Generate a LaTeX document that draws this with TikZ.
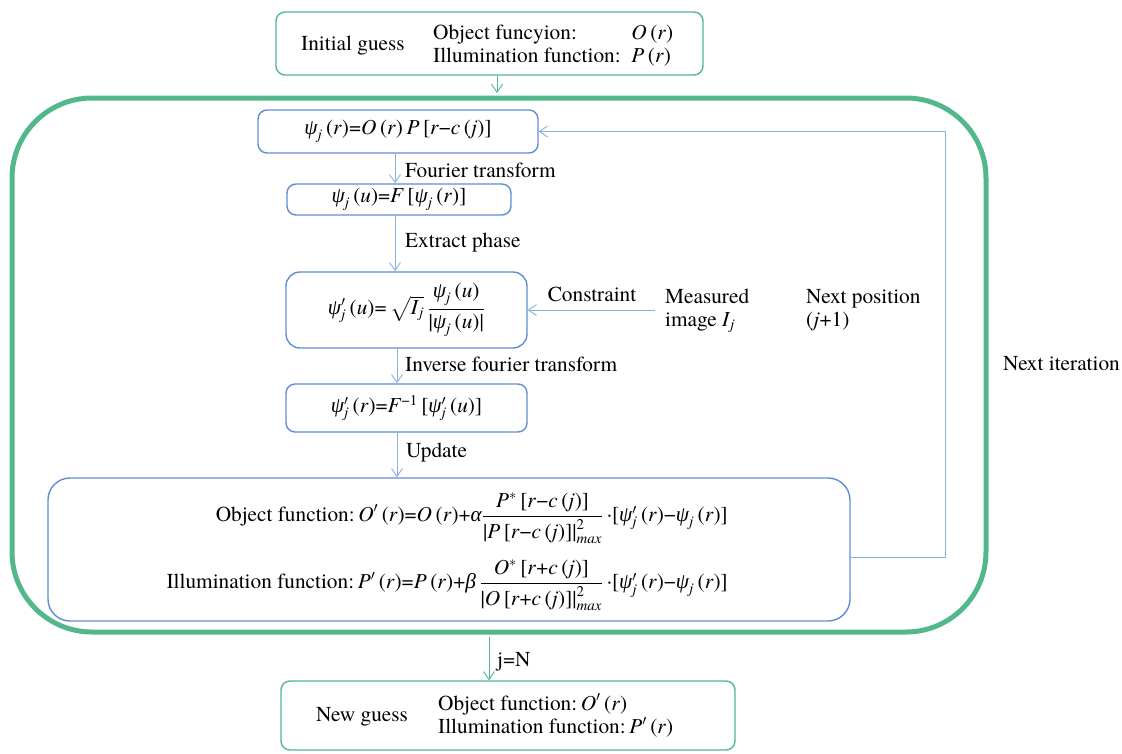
\documentclass[tikz,border=0pt]{standalone}
\usepackage{amsmath}
\usepackage{fontspec}
\setmainfont{texgyretermes}[Extension=.otf, UprightFont=*-regular, ItalicFont=*-italic, BoldFont=*-bold, BoldItalicFont=*-bolditalic]
\newfontfamily\grk{Liberation Serif}
\usetikzlibrary{arrows.meta}
\definecolor{gr}{RGB}{82,183,138}
\definecolor{bl}{RGB}{95,140,210}
\definecolor{lb}{RGB}{140,175,225}
\newcommand\itx[1]{\textit{#1}}
\newcommand\gk[1]{{\grk\itshape #1}}
\newcommand\psj{$\text{\gk{ψ}}_{\text{\itx{j}}}$}
\newcommand\psjp{$\text{\gk{ψ}}'_{\text{\itx{j}}}$}
\begin{document}
\begin{tikzpicture}[x=1pt,y=-1pt,
  every node/.style={font=\rmfamily\fontsize{21.3}{25}\selectfont, inner sep=0pt},
  bbox/.style={draw=bl, line width=1.4pt, rounded corners=9pt},
  gbox/.style={draw=gr, line width=1.4pt, rounded corners=9pt},
  arr/.style={-{Straight Barb[length=8pt,width=11pt]}, line width=0.9pt},
  barr/.style={arr, draw=lb},
  garr/.style={arr, draw=gr},
  lbl/.style={anchor=west}]
\useasboundingbox (0,0) rectangle (1122,753);
% big loop
\node[draw=gr, line width=5pt, rounded corners=80pt, minimum width=974pt, minimum height=534pt] (big) at (499,365) {};
% initial guess
\node[gbox, minimum width=427pt, minimum height=63pt] (init) at (489.5,43.5) {};
\node (initl) at (353,46) {Initial guess};
\node[anchor=west] (initr) at (433,46) {\begin{tabular}{@{}l@{\ \ }l@{}}Object funcyion: & \itx{O}\,(\itx{r})\\[-2pt] Illumination function: & \itx{P}\,(\itx{r})\end{tabular}};
% boxes
\node[bbox, minimum width=280pt, minimum height=43pt] (b1) at (398,131.5) {\psj\,(\itx{r})=\itx{O}\,(\itx{r})\,\itx{P}\,[\itx{r}−\itx{c}\,(\itx{j})]};
\node[bbox, minimum width=224pt, minimum height=31pt] (b2) at (399,199.5) {\psj\,(\itx{u})=\itx{F}\,[\psj\,(\itx{r})]};
\node[bbox, rounded corners=14pt, minimum width=241pt, minimum height=76pt] (b3) at (406.5,310) {\psjp\,(\itx{u})=\,$\sqrt{\text{\itx{I}}_{\text{\itx{j}}}}\,\dfrac{\text{\psj\,(\itx{u})}}{\text{|\psj\,(\itx{u})|}}$};
\node[bbox, minimum width=241pt, minimum height=48pt] (b4) at (406.5,408) {\psjp\,(\itx{r})=\itx{F}$^{\text{−1}}$\,[\psjp\,(\itx{u})]};
\node[bbox, rounded corners=22pt, minimum width=802pt, minimum height=143pt] (bu) at (449,549.5) {};
\node[anchor=east] (f1) at (728,518) {Object function:\,$\text{\itx{O}}'$\,(\itx{r})=\itx{O}\,(\itx{r})+\gk{α}$\dfrac{\text{\itx{P}}^{*}\text{\,[\itx{r}−\itx{c}\,(\itx{j})]}}{\text{|\itx{P}\,[\itx{r}−\itx{c}\,(\itx{j})]|}^{\text{2}}_{\text{\itx{max}}}}$\,·[\psjp\,(\itx{r})−\psj\,(\itx{r})]};
\node[anchor=east] (f2) at (728,585) {Illumination function:\,$\text{\itx{P}}'$\,(\itx{r})=\itx{P}\,(\itx{r})+\gk{β}\,$\dfrac{\text{\itx{O}}^{*}\text{\,[\itx{r}+\itx{c}\,(\itx{j})]}}{\text{|\itx{O}\,[\itx{r}+\itx{c}\,(\itx{j})]|}^{\text{2}}_{\text{\itx{max}}}}$\,·[\psjp\,(\itx{r})−\psj\,(\itx{r})]};
% new guess
\node[gbox, minimum width=454pt, minimum height=69pt] (ng) at (508,715.5) {};
\node (ngl) at (362,717) {New guess};
\node[anchor=west] (ngr) at (438,717) {\begin{tabular}{@{}l@{}}Object function:\,$\text{\itx{O}}'$\,(\itx{r})\\[-2pt] Illumination function:\,$\text{\itx{P}}'$\,(\itx{r})\end{tabular}};
% labels
\node[lbl] (l1) at (405,170) {Fourier transform};
\node[lbl] (l2) at (405,243) {Extract phase};
\node[lbl] (l3) at (405,364) {Inverse fourier transform};
\node[lbl] (l4) at (406,453) {Update};
\node (l5) at (592,294) {Constraint};
\node[anchor=west] (mi) at (665,310) {\begin{tabular}{@{}l@{}}Measured\\[-2pt] image \itx{I}$_{\text{\itx{j}}}$\end{tabular}};
\node[anchor=west] (np) at (806,310) {\begin{tabular}{@{}l@{}}Next position\\[-2pt] (\itx{j}+1)\end{tabular}};
\node[lbl] (ni) at (1003,364) {Next iteration};
\node[lbl] (jn) at (497,662) {j=N};
% coordinates
\coordinate (xa) at (395,0);
\coordinate (xb) at (397,0);
\coordinate (xi) at (497,0);
\coordinate (xn) at (489,0);
\coordinate (cs) at (655,310);
\coordinate (fb1) at (945,557);
\coordinate (fb2) at (945,131.5);
% connectors
\draw[garr, shorten >=2.5pt] (init.south -| xi) -- (big.north -| xi);
\draw[barr] (b1.south -| xa) -- (b2.north -| xa);
\draw[barr] (b2.south -| xa) -- (b3.north -| xa);
\draw[barr] (b3.south -| xb) -- (b4.north -| xb);
\draw[barr] (b4.south -| xb) -- (bu.north -| xb);
\draw[barr] (cs) -- (b3.east);
\draw[barr] (bu.east |- fb1) -- (fb1) -- (fb2) -- (b1.east);
\draw[garr, shorten <=2.5pt] (big.south -| xn) -- (ng.north -| xn);
\end{tikzpicture}
\end{document}
